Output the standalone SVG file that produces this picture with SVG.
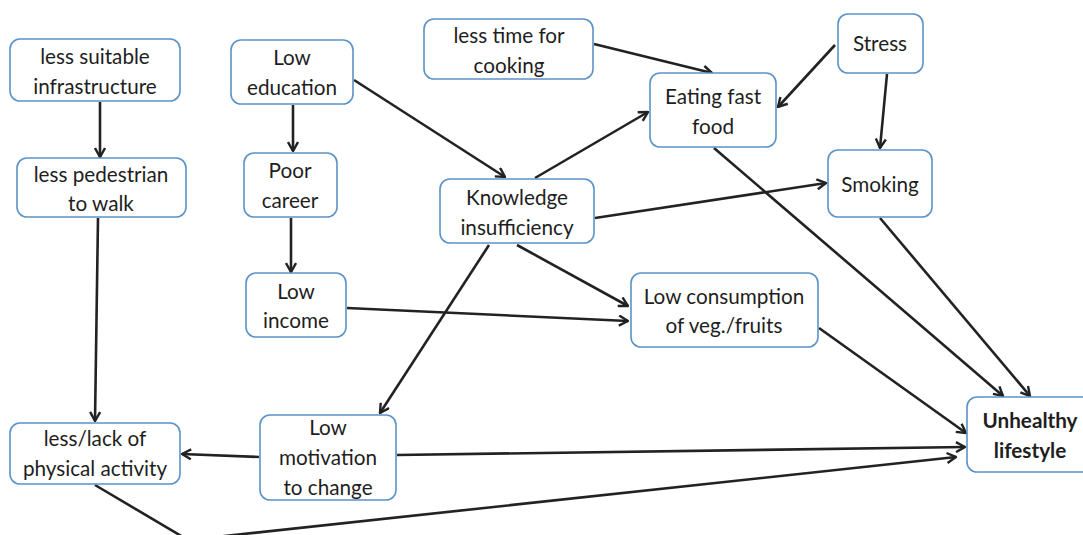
<svg xmlns="http://www.w3.org/2000/svg" width="1083" height="535" viewBox="0 0 1083 535">
<style>
.box{fill:#fff;stroke:#5b93c9;stroke-width:1.6}
.t{font-family:Lato,"Open Sans",sans-serif;font-size:20.7px;fill:#1e1e1e;text-anchor:middle}
.b{font-weight:bold}
.e{fill:none;stroke:#222;stroke-width:2.6}
</style>
<defs>
<marker id="a" viewBox="0 0 12 12" refX="11" refY="6" markerWidth="12" markerHeight="12" markerUnits="userSpaceOnUse" orient="auto">
<polyline points="2,1 11,6 2,11" fill="none" stroke="#222" stroke-width="2.4"/>
</marker>
</defs>
<rect width="1083" height="535" fill="#fff"/>
<g id="connectors">
<line class="e" x1="100" y1="102" x2="100" y2="157" marker-end="url(#a)"/>
<line class="e" x1="293" y1="105" x2="293" y2="151" marker-end="url(#a)"/>
<line class="e" x1="291" y1="218" x2="291" y2="272" marker-end="url(#a)"/>
<line class="e" x1="354" y1="80" x2="505" y2="177" marker-end="url(#a)"/>
<line class="e" x1="594" y1="44" x2="712" y2="73" marker-end="url(#a)"/>
<line class="e" x1="835" y1="45" x2="778" y2="107" marker-end="url(#a)"/>
<line class="e" x1="887" y1="74" x2="880" y2="148" marker-end="url(#a)"/>
<line class="e" x1="535" y1="178" x2="648" y2="112" marker-end="url(#a)"/>
<line class="e" x1="595" y1="218" x2="826" y2="183" marker-end="url(#a)"/>
<line class="e" x1="517" y1="245" x2="628" y2="306" marker-end="url(#a)"/>
<line class="e" x1="489" y1="245" x2="380" y2="413" marker-end="url(#a)"/>
<line class="e" x1="347" y1="308" x2="628" y2="321" marker-end="url(#a)"/>
<line class="e" x1="714" y1="148" x2="1003" y2="396" marker-end="url(#a)"/>
<line class="e" x1="880" y1="218" x2="1030" y2="396" marker-end="url(#a)"/>
<line class="e" x1="819" y1="328" x2="966" y2="433" marker-end="url(#a)"/>
<line class="e" x1="259" y1="457" x2="182" y2="454" marker-end="url(#a)"/>
<line class="e" x1="397" y1="455" x2="965" y2="447" marker-end="url(#a)"/>
<line class="e" x1="98" y1="218" x2="95" y2="421" marker-end="url(#a)"/>
<polyline class="e" points="95,485 188,540 956,457" marker-end="url(#a)"/>
</g>
<g id="n1"><rect class="box" x="10" y="39" width="170" height="62" rx="10"/><text class="t" x="95" y="64">less suitable</text><text class="t" x="95" y="94">infrastructure</text></g>
<g id="n2"><rect class="box" x="231" y="40" width="122" height="64" rx="10"/><text class="t" x="292" y="65">Low</text><text class="t" x="292" y="95">education</text></g>
<g id="n3"><rect class="box" x="424" y="19" width="169" height="60" rx="10"/><text class="t" x="509" y="43">less time for</text><text class="t" x="509" y="73">cooking</text></g>
<g id="n4"><rect class="box" x="838" y="14" width="85" height="59" rx="10"/><text class="t" x="880" y="51">Stress</text></g>
<g id="n5"><rect class="box" x="650" y="73" width="126" height="74" rx="10"/><text class="t" x="713" y="104">Eating fast</text><text class="t" x="713" y="134">food</text></g>
<g id="n6"><rect class="box" x="17" y="158" width="169" height="59" rx="10"/><text class="t" x="101" y="182">less pedestrian</text><text class="t" x="101" y="211">to walk</text></g>
<g id="n7"><rect class="box" x="244" y="153" width="93" height="64" rx="10"/><text class="t" x="290" y="178">Poor</text><text class="t" x="290" y="208">career</text></g>
<g id="n8"><rect class="box" x="440" y="179" width="154" height="64" rx="10"/><text class="t" x="517" y="205">Knowledge</text><text class="t" x="517" y="235">insufficiency</text></g>
<g id="n9"><rect class="box" x="828" y="150" width="104" height="67" rx="10"/><text class="t" x="880" y="192">Smoking</text></g>
<g id="n10"><rect class="box" x="246" y="273" width="100" height="64" rx="10"/><text class="t" x="296" y="299">Low</text><text class="t" x="296" y="328">income</text></g>
<g id="n11"><rect class="box" x="631" y="273" width="187" height="74" rx="10"/><text class="t" x="724" y="304">Low consumption</text><text class="t" x="724" y="333">of veg./fruits</text></g>
<g id="n12"><rect class="box" x="10" y="423" width="170" height="61" rx="10"/><text class="t" x="95" y="446">less/lack of</text><text class="t" x="95" y="476">physical activity</text></g>
<g id="n13"><rect class="box" x="260" y="415" width="136" height="85" rx="10"/><text class="t" x="328" y="435">Low</text><text class="t" x="328" y="465">motivation</text><text class="t" x="328" y="495">to change</text></g>
<g id="n14"><rect class="box" x="967" y="397" width="130" height="75" rx="10"/><text class="t b" x="1030" y="428">Unhealthy</text><text class="t b" x="1030" y="458">lifestyle</text></g>
</svg>
